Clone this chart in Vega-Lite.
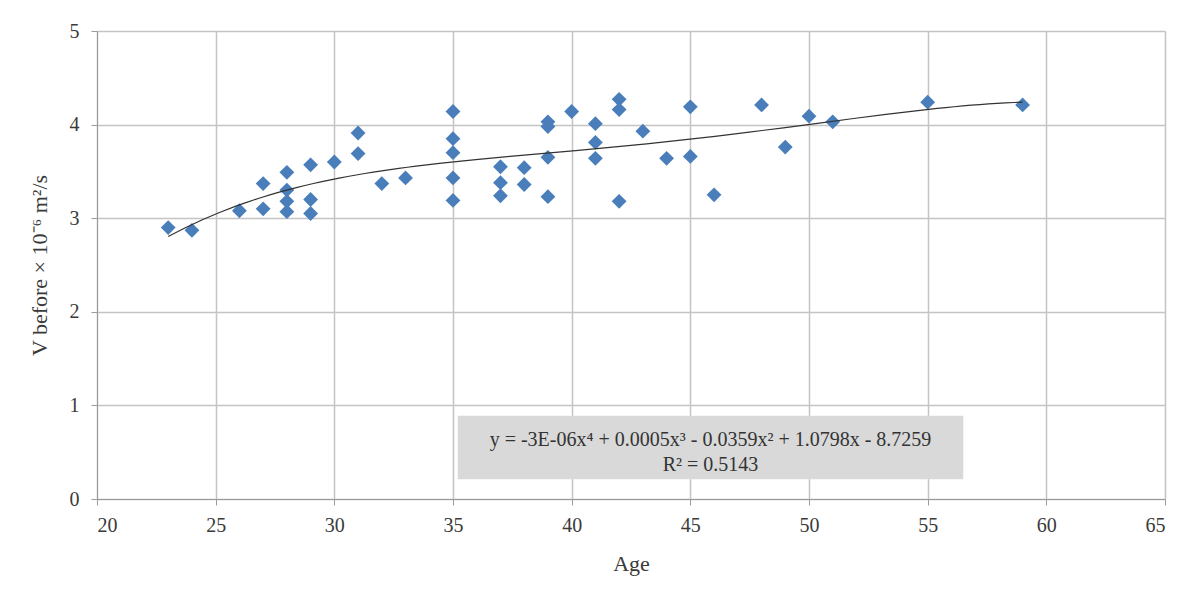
{
  "$schema": "https://vega.github.io/schema/vega-lite/v6.json",
  "width": 1068,
  "height": 468,
  "autosize": {"type": "none"},
  "padding": {"left": 97, "top": 31, "right": 22, "bottom": 105},
  "background": "white",
  "config": {
    "view": {"stroke": null},
    "font": "Liberation Serif",
    "axis": {
      "labelFont": "Liberation Serif",
      "titleFont": "Liberation Serif",
      "labelFontSize": 20,
      "titleFontSize": 22,
      "labelColor": "#3a3a3a",
      "titleColor": "#3a3a3a",
      "titleFontWeight": "normal",
      "gridColor": "#c4c4c4",
      "gridWidth": 1.5,
      "gridOpacity": 1,
      "domainColor": "#9a9a9a",
      "tickColor": "#9a9a9a",
      "tickSize": 6
    }
  },
  "datasets": {
    "pts": [
      {"age": 23, "v": 2.90}, {"age": 24, "v": 2.87},
      {"age": 26, "v": 3.08},
      {"age": 27, "v": 3.37}, {"age": 27, "v": 3.10},
      {"age": 28, "v": 3.49}, {"age": 28, "v": 3.30}, {"age": 28, "v": 3.18}, {"age": 28, "v": 3.07},
      {"age": 29, "v": 3.57}, {"age": 29, "v": 3.20}, {"age": 29, "v": 3.05},
      {"age": 30, "v": 3.60},
      {"age": 31, "v": 3.91}, {"age": 31, "v": 3.69},
      {"age": 32, "v": 3.37},
      {"age": 33, "v": 3.43},
      {"age": 35, "v": 4.14}, {"age": 35, "v": 3.85}, {"age": 35, "v": 3.70}, {"age": 35, "v": 3.43}, {"age": 35, "v": 3.19},
      {"age": 37, "v": 3.55}, {"age": 37, "v": 3.38}, {"age": 37, "v": 3.24},
      {"age": 38, "v": 3.54}, {"age": 38, "v": 3.36},
      {"age": 39, "v": 4.03}, {"age": 39, "v": 3.98}, {"age": 39, "v": 3.65}, {"age": 39, "v": 3.23},
      {"age": 40, "v": 4.14},
      {"age": 41, "v": 4.01}, {"age": 41, "v": 3.81}, {"age": 41, "v": 3.64},
      {"age": 42, "v": 4.27}, {"age": 42, "v": 4.16}, {"age": 42, "v": 3.18},
      {"age": 43, "v": 3.93},
      {"age": 44, "v": 3.64},
      {"age": 45, "v": 4.19}, {"age": 45, "v": 3.66},
      {"age": 46, "v": 3.25},
      {"age": 48, "v": 4.21},
      {"age": 49, "v": 3.76},
      {"age": 50, "v": 4.09},
      {"age": 51, "v": 4.03},
      {"age": 55, "v": 4.24},
      {"age": 59, "v": 4.21}
    ],
    "box": [{"x1": 35.2, "x2": 56.5, "y1": 0.21, "y2": 0.89}],
    "eq": [
      {"x": 45.85, "y": 0.63, "t": "y = -3E-06x⁴ + 0.0005x³ - 0.0359x² + 1.0798x - 8.7259"},
      {"x": 45.85, "y": 0.36, "t": "R² = 0.5143"}
    ]
  },
  "layer": [
    {
      "data": {"name": "box"},
      "mark": {"type": "rect", "color": "#d9d9d9"},
      "encoding": {
        "x": {"field": "x1", "type": "quantitative", "scale": {"domain": [20, 65]}},
        "x2": {"field": "x2"},
        "y": {"field": "y1", "type": "quantitative", "scale": {"domain": [0, 5]}},
        "y2": {"field": "y2"}
      }
    },
    {
      "data": {"name": "eq"},
      "mark": {"type": "text", "font": "Liberation Serif", "fontSize": 20, "color": "#333333", "align": "center", "baseline": "middle"},
      "encoding": {
        "x": {"field": "x", "type": "quantitative"},
        "y": {"field": "y", "type": "quantitative"},
        "text": {"field": "t"}
      }
    },
    {
      "data": {"name": "pts"},
      "mark": {"type": "point", "shape": "diamond", "filled": true, "size": 220, "color": "#4a7ebb", "opacity": 1},
      "encoding": {
        "x": {"field": "age", "type": "quantitative", "title": "Age",
          "scale": {"domain": [20, 65], "nice": false},
          "axis": {"values": [20, 25, 30, 35, 40, 45, 50, 55, 60, 65], "format": "d", "titlePadding": 18, "labelPadding": 10}},
        "y": {"field": "v", "type": "quantitative", "title": "V before × 10⁻⁶  m²/s",
          "scale": {"domain": [0, 5], "nice": false},
          "axis": {"values": [0, 1, 2, 3, 4, 5], "format": "d", "titlePadding": 18, "labelPadding": 12}}
      }
    },
    {
      "data": {"name": "pts"},
      "transform": [{"regression": "v", "on": "age", "method": "poly", "order": 4}],
      "mark": {"type": "line", "color": "#333333", "strokeWidth": 1.2},
      "encoding": {
        "x": {"field": "age", "type": "quantitative"},
        "y": {"field": "v", "type": "quantitative"}
      }
    }
  ]
}
